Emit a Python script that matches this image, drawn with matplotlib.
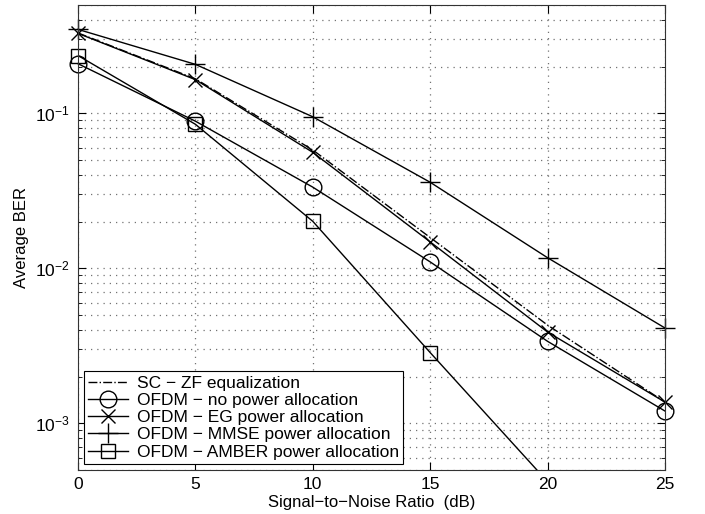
import matplotlib.pyplot as plt
import numpy as np

plt.rcParams['font.family'] = ['Liberation Sans', 'DejaVu Sans']
plt.rcParams['mathtext.fontset'] = 'custom'
plt.rcParams['mathtext.rm'] = 'Liberation Sans'
plt.rcParams['font.size'] = 12

snr = np.array([0, 5, 10, 15, 20, 25])

ber_sc_zf = np.array([0.330, 0.167, 0.058, 0.0158, 0.0043, 0.00137])
ber_no_pa = np.array([0.209, 0.089, 0.0334, 0.0110, 0.00338, 0.00120])
ber_eg = np.array([0.328, 0.165, 0.056, 0.0148, 0.00388, 0.00137])
ber_mmse = np.array([0.348, 0.207, 0.095, 0.0359, 0.0117, 0.00412])
ber_amber = np.array([0.236, 0.085, 0.0201, 0.00286, 0.00042, 0.00006])

labels = ["SC \u2212 ZF equalization",
          "OFDM \u2212 no power allocation",
          "OFDM \u2212 EG power allocation",
          "OFDM \u2212 MMSE power allocation",
          "OFDM \u2212 AMBER power allocation"]

ymin, ymax = 5e-4, 0.5

fig = plt.figure(figsize=(7.05, 5.14), dpi=100)
ax = fig.add_axes([0.1106, 0.0856, 0.8327, 0.9047])

lw = 1.0
ax.plot(snr, ber_sc_zf, 'k-.', lw=lw, label=labels[0], clip_on=False)
ax.plot(snr, ber_no_pa, 'k-', marker='o', ms=12, mfc='none', mew=1.0, lw=lw,
        label=labels[1], clip_on=False)
ax.plot(snr, ber_eg, 'k-', marker='x', ms=10, mew=1.0, lw=lw, label=labels[2], clip_on=False)
ax.plot(snr, ber_mmse, 'k-', marker='+', ms=15, mew=1.0, lw=lw, label=labels[3], clip_on=False)
# AMBER line runs below the axis: clip the line, keep visible markers unclipped
ax.plot(snr, ber_amber, 'k-', lw=lw)
vis = ber_amber >= ymin
ax.plot(snr[vis], ber_amber[vis], 'ks', ms=10, mfc='none', mew=1.0, clip_on=False)
ax.plot([], [], 'k-', marker='s', ms=10, mfc='none', mew=1.0, lw=lw, label=labels[4])

ax.set_yscale('log')
ax.set_xlim(0, 25)
ax.set_ylim(ymin, ymax)
ax.set_xticks([0, 5, 10, 15, 20, 25])
ax.set_xlabel("Signal\u2212to\u2212Noise Ratio  (dB)", labelpad=2)
ax.set_ylabel("Average BER", labelpad=4)

grid_kw = dict(linestyle=(0, (1, 4)), color='0.45', lw=0.9)
ax.grid(True, which='major', **grid_kw)
ax.grid(True, which='minor', axis='y', **grid_kw)
ax.tick_params(which='both', direction='in', top=True, right=True, labelsize=12.5)
ax.tick_params(which='major', length=6)
ax.tick_params(axis='x', which='major', pad=5)
ax.tick_params(axis='y', which='major', pad=6)
ax.tick_params(which='minor', length=3)
for s in ax.spines.values():
    s.set_color('0.2')

leg = ax.legend(loc='lower left', fancybox=False, framealpha=1, edgecolor='k',
                handlelength=2.3, borderpad=0.25, labelspacing=0.12, handletextpad=0.5,
                borderaxespad=0.35, fontsize=12.5)
leg.get_frame().set_linewidth(0.8)

fig.savefig('out.png', dpi=100)
